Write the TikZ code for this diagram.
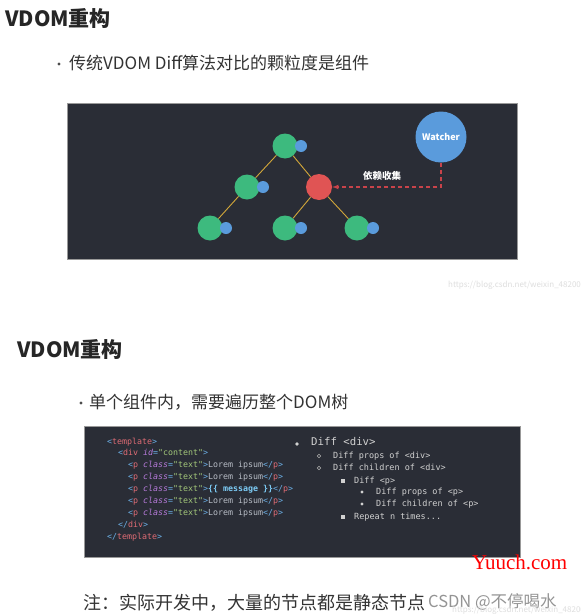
\documentclass[tikz,border=0pt]{standalone}
\usepackage{fontspec}
\setmainfont{Noto Sans CJK SC}
\setmonofont{DejaVu Sans Mono}
\newfontfamily\wmserif{Liberation Serif}
\usetikzlibrary{positioning}

\definecolor{panel}{HTML}{2A2D36}
\definecolor{vgreen}{HTML}{3DBA7E}
\definecolor{vblue}{HTML}{5A9BDC}
\definecolor{vred}{HTML}{E05454}
\definecolor{vgold}{HTML}{D2A73A}
\definecolor{vdash}{HTML}{C8434A}
\definecolor{hpunc}{HTML}{6CB0E6}
\definecolor{htag}{HTML}{E06C75}
\definecolor{hattr}{HTML}{B77BDB}
\definecolor{hstr}{HTML}{A3C87A}
\definecolor{htxt}{HTML}{B8BDC6}
\definecolor{hvar}{HTML}{7CCBF5}

\newcommand\hlpunc[1]{\textcolor{hpunc}{#1}}
\newcommand\hltag[1]{\textcolor{htag}{#1}}
\newcommand\hlattr[1]{\textcolor{hattr}{\itshape #1}}
\newcommand\hlstr[1]{\textcolor{hstr}{#1}}
\newcommand\hlvar[1]{\textcolor{hvar}{\bfseries #1}}

\tikzset{
  vnode/.style={circle,fill=vgreen,minimum size=25pt,inner sep=0},
  vdot/.style={circle,fill=vblue,minimum size=12pt,inner sep=0},
  vedge/.style={vgold,line width=0.9pt},
  heading/.style={anchor=west,inner sep=0,font=\bfseries\fontsize{21}{25}\selectfont,text=black!85},
  bullet/.style={anchor=west,inner sep=0,font=\fontsize{17}{20}\selectfont,text=black!80},
  bulletdot/.style={circle,fill=black!70,minimum size=3.4pt,inner sep=0},
  codeline/.style={anchor=west,inner sep=0,text=htxt,text height=6pt,text depth=2pt,
    font=\ttfamily\fontsize{8.3}{10}\selectfont},
  listline/.style={anchor=west,inner sep=0,text=white!82!black,text height=6pt,text depth=2pt,
    font=\ttfamily\fontsize{8.5}{10}\selectfont},
  mark1/.style={circle,fill=white!82!black,minimum size=3.2pt,inner sep=0},
  mark2/.style={circle,draw=white!70!black,line width=0.5pt,minimum size=3.6pt,inner sep=0},
  mark3/.style={rectangle,fill=white!82!black,minimum size=3.6pt,inner sep=0},
  wmurl/.style={anchor=west,inner sep=0,text=black!13,font=\fontsize{8}{9}\selectfont},
}

\begin{document}
\begin{tikzpicture}[x=1pt,y=-1pt,>=latex]
\useasboundingbox[fill=white] (0,0) rectangle (581,616);

\node[heading] (h1) at (5,19) {VDOM重构};
\node[bulletdot] (b1) at (59,64) {};
\node[bullet] (t1) at (69,63) {传统VDOM Diff算法对比的颗粒度是组件};

% component tree panel
\draw[fill=panel,draw=black!40,line width=0.6pt] (67,103) rectangle (517,259);
\node[vnode] (n0) at (285,146) {};
\node[vnode] (n1) at (247,187) {};
\node[vnode,fill=vred,minimum size=26pt] (n2) at (319,187) {};
\node[vnode] (n3) at (210,228) {};
\node[vnode] (n4) at (285,228) {};
\node[vnode] (n5) at (357,228) {};
\draw[vedge] (n0) -- (n1);
\draw[vedge] (n0) -- (n2);
\draw[vedge] (n1) -- (n3);
\draw[vedge] (n2) -- (n4);
\draw[vedge] (n2) -- (n5);
\node[vdot] (d0) at (301,146) {};
\node[vdot] (d1) at (263,187) {};
\node[vdot] (d3) at (226,228) {};
\node[vdot] (d4) at (301,228) {};
\node[vdot] (d5) at (373,228) {};
\node[circle,fill=vblue,minimum size=51pt,inner sep=0,text=white,
  font=\bfseries\fontsize{9}{10}\selectfont] (w) at (441,137) {Watcher};
\draw[vdash,dashed,dash pattern=on 4pt off 3pt,line width=1.1pt,->] (w.south) |- (n2.east);
\node[text=white,inner sep=0,font=\bfseries\fontsize{9.5}{11}\selectfont] (dep) at (382,176) {依赖收集};

\node[wmurl] (u1) at (448,285) {https://blog.csdn.net/weixin\_4820058};

\node[heading] (h2) at (17,350) {VDOM重构};
\node[bulletdot] (b2) at (81,403) {};
\node[bullet] (t2) at (89,402) {单个组件内，需要遍历整个DOM树};

% template panel
\draw[fill=panel,draw=black!40,line width=0.6pt] (84,426) rectangle (520,557);
\node[codeline] (c1) at (107,442) {\hlpunc{<}\hltag{template}\hlpunc{>}};
\node[codeline] (c2) at (118,453) {\hlpunc{<}\hltag{div} \hlattr{id}\hlpunc{=}\hlstr{"content"}\hlpunc{>}};
\foreach \y/\nm in {465/c3,477/c4,501/c6,513/c7}
  \node[codeline] (\nm) at (128,\y) {\hlpunc{<}\hltag{p} \hlattr{class}\hlpunc{=}\hlstr{"text"}\hlpunc{>}Lorem ipsum\hlpunc{</}\hltag{p}\hlpunc{>}};
\node[codeline] (c5) at (128,489) {\hlpunc{<}\hltag{p} \hlattr{class}\hlpunc{=}\hlstr{"text"}\hlpunc{>}\hlvar{\{\{ message \}\}}\hlpunc{</}\hltag{p}\hlpunc{>}};
\node[codeline] (c8) at (118,525) {\hlpunc{</}\hltag{div}\hlpunc{>}};
\node[codeline] (c9) at (107,537) {\hlpunc{</}\hltag{template}\hlpunc{>}};

\node[mark1,minimum size=3.6pt] (m1) at (297,444) {};
\node[listline,font=\ttfamily\fontsize{10.7}{12}\selectfont] (l1) at (311,443) {Diff <div>};
\node[mark2] (m2) at (319,456) {};
\node[listline] (l2) at (333,456) {Diff props of <div>};
\node[mark2] (m3) at (319,468) {};
\node[listline] (l3) at (333,468) {Diff children of <div>};
\node[mark3] (m4) at (343,481) {};
\node[listline] (l4) at (354,481) {Diff <p>};
\node[mark1] (m5) at (362,492) {};
\node[listline] (l5) at (376,492) {Diff props of <p>};
\node[mark1] (m6) at (362,504) {};
\node[listline] (l6) at (376,504) {Diff children of <p>};
\node[mark3] (m7) at (343,517) {};
\node[listline] (l7) at (354,517) {Repeat n times...};

\node[anchor=west,inner sep=0,text=red,font=\wmserif\fontsize{21}{22}\selectfont] (yc) at (472,562) {Yuuch.com};
\node[anchor=west,inner sep=0,text=black!80,font=\fontsize{18}{20}\selectfont] (note) at (83,603) {注：实际开发中，大量的节点都是静态节点};
\node[anchor=west,inner sep=0,text=black!42,font=\fontsize{16.5}{18}\selectfont] (csdn) at (428,602) {CSDN @不停喝水};
\node[wmurl] (u2) at (452,610) {https://blog.csdn.net/weixin\_4820058};
\end{tikzpicture}
\end{document}
